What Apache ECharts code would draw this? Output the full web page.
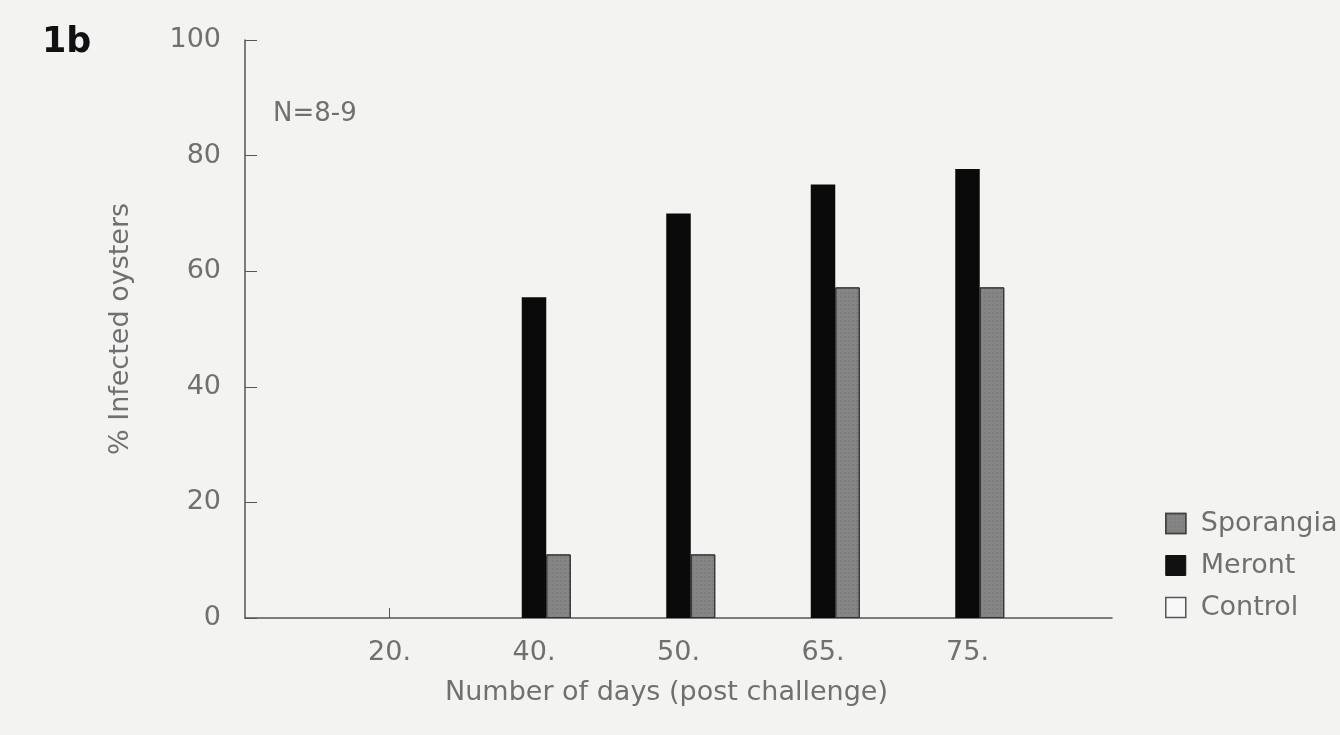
<!DOCTYPE html>
<html>
<head>
<meta charset="utf-8">
<script src="https://cdn.jsdelivr.net/npm/echarts@6/dist/echarts.min.js"></script>
<style>
html,body{margin:0;padding:0;background:#f3f3f1;}
#main{width:1340px;height:735px;}
</style>
</head>
<body>
<div id="main"></div>
<script>
// Data
var categories = ['', '20.', '40.', '50.', '65.', '75.', ''];
var controlValues = [null, 0, 0, 0, 0, 0, null];
var merontValues = [null, 0, 55.5, 70, 75, 77.7, null];
var sporangiaValues = [null, 0, 11, 11, 57.2, 57.2, null];
var yTicks = [0, 20, 40, 60, 80, 100];

var textColor = '#707070';
var lineColor = '#555';
var font = 'DejaVu Sans';

function noBorderAtZero(arr) {
  return arr.map(function (v) {
    return v === 0 ? {value: v, itemStyle: {borderWidth: 0}} : v;
  });
}

var chart = echarts.init(document.getElementById('main'));
chart.setOption({
  backgroundColor: '#f3f3f1',
  animation: false,
  title: [
    {text: '1b', left: 37, top: 20, textStyle: {fontFamily: font, fontSize: 35, fontWeight: 'bold', color: '#111'}},
    {text: 'N=8-9', left: 268, top: 96, textStyle: {fontFamily: font, fontSize: 26, fontWeight: 'normal', color: textColor}}
  ],
  legend: {
    orient: 'vertical',
    left: 1160,
    top: 505,
    itemWidth: 20,
    itemHeight: 20,
    itemGap: 15,
    icon: 'rect',
    textStyle: {fontFamily: font, fontSize: 27, color: textColor, padding: [0, 0, 0, 10]},
    data: [
      {name: 'Sporangia', itemStyle: {color: '#858585', borderColor: '#444', borderWidth: 1.5}},
      {name: 'Meront', itemStyle: {color: '#111', borderColor: '#111', borderWidth: 1}},
      {name: 'Control', itemStyle: {color: '#f8f8f8', borderColor: '#555', borderWidth: 1.5}}
    ]
  },
  grid: {left: 245, right: 228, top: 40, bottom: 117, containLabel: false},
  xAxis: {
    type: 'category',
    data: categories,
    boundaryGap: false,
    name: 'Number of days (post challenge)',
    nameLocation: 'middle',
    nameGap: 61,
    nameTextStyle: {fontFamily: font, fontSize: 27, color: textColor, padding: [0, 24, 0, 0]},
    axisLine: {lineStyle: {color: lineColor, width: 1.5}},
    axisTick: {
      inside: true, length: 10,
      interval: function (i, v) { return v !== ''; },
      lineStyle: {color: lineColor}
    },
    axisLabel: {fontFamily: font, fontSize: 27, color: textColor, margin: 21, interval: 0},
    splitLine: {show: false}
  },
  yAxis: {
    type: 'value',
    min: yTicks[0],
    max: yTicks[yTicks.length - 1],
    interval: 20,
    name: '% Infected oysters',
    nameLocation: 'middle',
    nameGap: 111,
    nameTextStyle: {fontFamily: font, fontSize: 27, color: textColor},
    axisLine: {show: true, lineStyle: {color: lineColor, width: 1.5}},
    axisTick: {show: true, inside: true, length: 12, lineStyle: {color: lineColor}},
    axisLabel: {fontFamily: font, fontSize: 27, color: textColor, margin: 24},
    splitLine: {show: false}
  },
  series: [
    {
      name: 'Control', type: 'bar', data: controlValues,
      barWidth: 24.5, barGap: '0%',
      itemStyle: {color: '#f8f8f8', borderWidth: 0}
    },
    {
      name: 'Meront', type: 'bar', data: merontValues,
      barWidth: 24.5, barGap: '0%',
      itemStyle: {color: '#0a0a0a'}
    },
    {
      name: 'Sporangia', type: 'bar', data: noBorderAtZero(sporangiaValues),
      barWidth: 24.5, barGap: '0%',
      itemStyle: {color: '#858585', borderColor: '#333', borderWidth: 1,
        decal: {symbol: 'rect', symbolSize: 0.6, dashArrayX: [2, 2], dashArrayY: [2, 2], color: 'rgba(60,60,60,0.35)'}}
    }
  ]
});
</script>
</body>
</html>
